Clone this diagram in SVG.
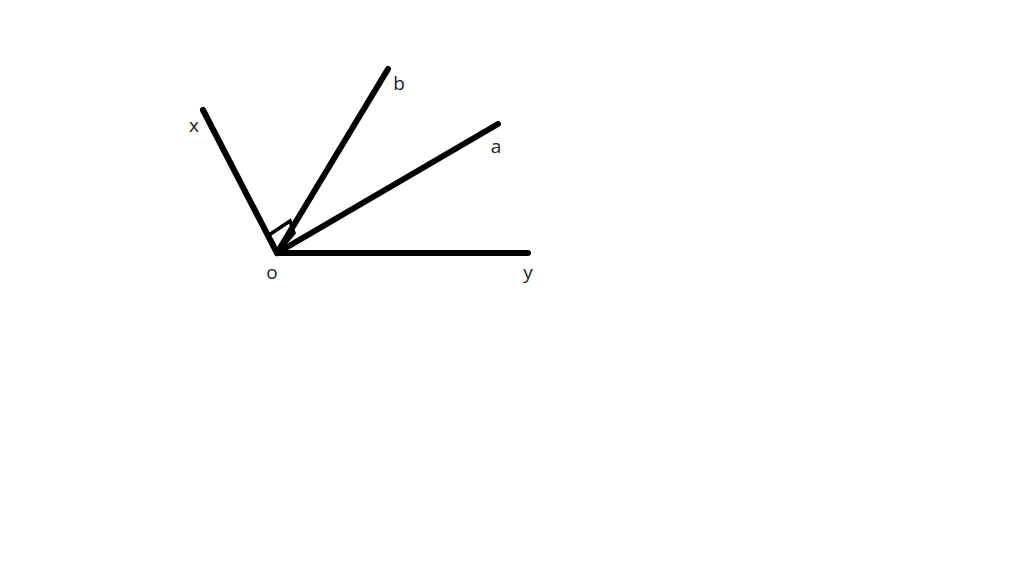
<svg xmlns="http://www.w3.org/2000/svg" width="1024" height="575" viewBox="0 0 1024 575">
<style>
.ray{stroke:#000;stroke-width:6;stroke-linecap:round;fill:none}
.mk{stroke:#000;stroke-width:3.5;fill:none;stroke-linejoin:miter}
.lbl{font-family:"Open Sans","Liberation Sans",sans-serif;font-size:19px;fill:#222;text-anchor:middle}
</style>
<rect width="1024" height="575" fill="#fff"/>
<g id="connectors">
<line class="ray" x1="277" y1="253" x2="203" y2="110"/>
<line class="ray" x1="277" y1="253" x2="388" y2="69"/>
<line class="ray" x1="277" y1="253" x2="498" y2="124"/>
<line class="ray" x1="277" y1="253" x2="528" y2="253"/>
<polyline class="mk" points="269,235 290,221 294,233 282,247"/>
</g>
<g id="node-x"><text class="lbl" x="194" y="132">x</text></g>
<g id="node-b"><text class="lbl" x="399" y="90">b</text></g>
<g id="node-a"><text class="lbl" x="496" y="153">a</text></g>
<g id="node-o"><text class="lbl" x="272" y="279">o</text></g>
<g id="node-y"><text class="lbl" x="528" y="279">y</text></g>
</svg>
